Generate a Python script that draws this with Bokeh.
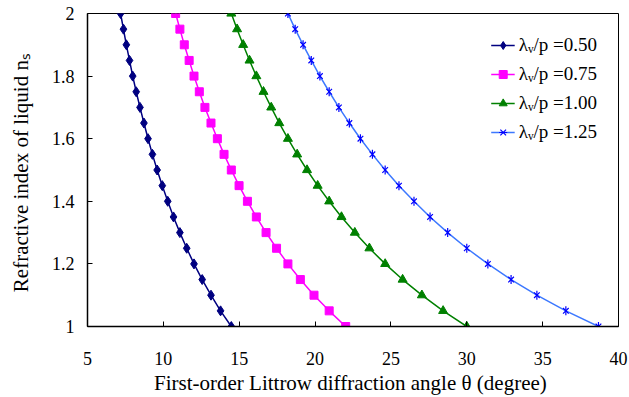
from bokeh.plotting import figure
from bokeh.models import FixedTicker, Legend, LegendItem
from bokeh.embed import file_html
from bokeh.resources import INLINE
import math

# Refractive index of liquid (y)
n_s = [1.00, 1.05, 1.10, 1.15, 1.20, 1.25, 1.30, 1.35, 1.40, 1.45, 1.50,
       1.55, 1.60, 1.65, 1.70, 1.75, 1.80, 1.85, 1.90, 1.95, 2.00]

# First-order Littrow diffraction angle (degree) for each series
theta_050 = [14.48, 13.77, 13.14, 12.56, 12.02, 11.54, 11.09, 10.67, 10.29, 9.93, 9.59,
             9.28, 8.99, 8.72, 8.46, 8.21, 7.98, 7.77, 7.56, 7.37, 7.18]
theta_075 = [22.02, 20.93, 19.93, 19.03, 18.21, 17.46, 16.77, 16.13, 15.54, 14.99, 14.48,
             14.00, 13.56, 13.14, 12.74, 12.37, 12.02, 11.70, 11.38, 11.09, 10.81]
theta_100 = [30.00, 28.44, 27.04, 25.77, 24.62, 23.58, 22.62, 21.74, 20.93, 20.17, 19.47,
             18.82, 18.21, 17.64, 17.11, 16.60, 16.13, 15.68, 15.26, 14.86, 14.48]
theta_125 = [38.68, 36.53, 34.62, 32.92, 31.39, 30.00, 28.74, 27.58, 26.52, 25.53, 24.62,
             23.78, 22.99, 22.26, 21.57, 20.93, 20.32, 19.75, 19.21, 18.69, 18.21]

series_labels = ["λᵥ/p =0.50", "λᵥ/p =0.75", "λᵥ/p =1.00", "λᵥ/p =1.25"]

x_ticks = [5, 10, 15, 20, 25, 30, 35, 40]
y_ticks = [1, 1.2, 1.4, 1.6, 1.8, 2]
y_tick_labels = ["1", "1.2", "1.4", "1.6", "1.8", "2"]

FONT = "Liberation Serif"

p = figure(width=629, height=397, x_range=(5, 40), y_range=(1, 2),
           output_backend="svg", toolbar_location=None,
           min_border_left=87, min_border_right=11, min_border_top=13, min_border_bottom=69)

p.xgrid.visible = False
p.ygrid.visible = False
p.outline_line_color = "black"
p.outline_line_width = 1
p.background_fill_color = "white"
p.border_fill_color = "white"

p.xaxis.ticker = FixedTicker(ticks=x_ticks)
p.yaxis.ticker = FixedTicker(ticks=y_ticks)
p.yaxis.major_label_overrides = {t: l for t, l in zip(y_ticks, y_tick_labels)}

for ax in (p.xaxis[0], p.yaxis[0]):
    ax.axis_line_color = "black"
    ax.axis_line_width = 1.5
    ax.major_tick_in = 5
    ax.major_tick_out = 0
    ax.minor_tick_in = 0
    ax.minor_tick_out = 0
    ax.major_tick_line_color = "black"
    ax.major_label_text_font = FONT
    ax.major_label_text_font_size = "18px"
    ax.major_label_text_color = "black"
    ax.axis_label_text_font = FONT
    ax.axis_label_text_font_size = "21px"
    ax.axis_label_text_font_style = "normal"
    ax.axis_label_text_color = "black"

p.xaxis.axis_label = "First-order  Littrow diffraction angle θ (degree)"
p.yaxis.axis_label = "Refractive index of liquid  nₛ"
p.xaxis.major_label_standoff = 25
p.xaxis.axis_label_standoff = 3
p.yaxis.major_label_standoff = 13
p.yaxis.axis_label_standoff = 16

items = []

l1 = p.line(theta_050, n_s, line_color="#000080", line_width=1.5)
m1 = p.scatter(theta_050, n_s, marker="diamond", size=10, fill_color="#000080", line_color="#000080")
items.append(LegendItem(label=series_labels[0], renderers=[l1, m1]))

l2 = p.line(theta_075, n_s, line_color="#FF00FF", line_width=1.5)
m2 = p.scatter(theta_075, n_s, marker="square", size=8, fill_color="#FF00FF", line_color="#FF00FF")
items.append(LegendItem(label=series_labels[1], renderers=[l2, m2]))

l3 = p.line(theta_100, n_s, line_color="#008000", line_width=1.5)
m3 = p.scatter(theta_100, n_s, marker="triangle", size=9, fill_color="#008000", line_color="#008000")
items.append(LegendItem(label=series_labels[2], renderers=[l3, m3]))

l4 = p.line(theta_125, n_s, line_color="#3C78FF", line_width=1.5)
m4 = p.scatter(theta_125, n_s, marker="x", size=8, line_color="#0000FF", line_width=1.2)
m4b = p.scatter(theta_125, n_s, marker="dash", size=9, angle=math.pi / 2, line_color="#0000FF", line_width=1.2)
items.append(LegendItem(label=series_labels[3], renderers=[l4, m4, m4b]))

legend = Legend(items=items, location="top_right")
legend.label_text_font = FONT
legend.label_text_font_size = "19px"
legend.label_text_color = "black"
legend.border_line_color = None
legend.background_fill_alpha = 0
legend.glyph_width = 24
legend.glyph_height = 20
legend.label_height = 20
legend.spacing = 7
legend.label_standoff = 4
legend.margin = 21
legend.padding = 8
p.add_layout(legend)

open("out.html", "w").write(file_html(p, INLINE))
